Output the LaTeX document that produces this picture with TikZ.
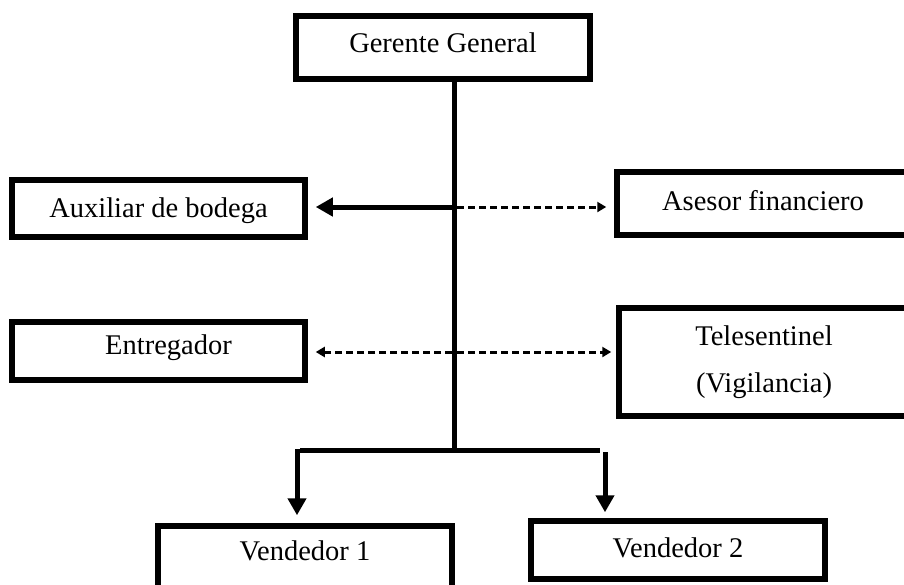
\documentclass[tikz,border=0pt]{standalone}
\usepackage{fontspec}
\setmainfont{Liberation Serif}
\usetikzlibrary{arrows.meta}
\begin{document}
\begin{tikzpicture}[x=1pt,y=-1pt,
  box/.style={draw,line width=5.5pt,rectangle,inner sep=0pt,font=\fontsize{28.5}{34}\selectfont,align=center},
  solidline/.style={line width=5pt},
  solidarrow/.style={line width=5pt,-{Triangle[length=17pt,width=18pt]}},
  dasharrow/.style={line width=3pt,dash pattern=on 7pt off 4pt,-{Triangle[length=9pt,width=10pt]}}]
\useasboundingbox (0,0) rectangle (904,584);
\node[box,minimum width=294pt,minimum height=63pt,text height=20pt,text depth=11pt] (gg) at (443,47.5) {Gerente General};
\node[box,minimum width=293pt,minimum height=57pt,text height=20pt,text depth=3pt] (aux) at (158.5,208.5) {Auxiliar de bodega};
\node[box,minimum width=292pt,minimum height=63pt,text height=20pt,text depth=7pt] (ase) at (763,203.5) {Asesor financiero};
\node[box,minimum width=293pt,minimum height=58pt,text height=20pt,text depth=14pt] (ent) at (158.5,351) {\hspace*{20pt}Entregador};
\node[box,minimum width=290pt,minimum height=108pt] (tel) at (764,362) {Telesentinel\\[13pt](Vigilancia)};
\node[box,minimum width=294pt,minimum height=74pt,text height=20pt,text depth=26pt] (v1) at (305,563) {Vendedor 1};
\node[box,minimum width=294pt,minimum height=58pt,text height=20pt,text depth=6pt] (v2) at (678,550) {Vendedor 2};
\coordinate (bus) at (454,450);
\coordinate (ja) at (454,207);
\coordinate (je) at (454,352);
\coordinate (bl) at (300,450);
\coordinate (br) at (600,450);
\draw[solidline] (gg.south -| bus) -- (bus);
\draw[solidline] (bl) -- (br);
\draw[solidarrow,shorten >=8pt] ([xshift=-1pt]ja) -- (aux.east |- ja);
\draw[dasharrow,shorten >=8pt] ([xshift=3pt]ja) -- (ase.west |- ja);
\draw[dasharrow,shorten >=8pt] ([xshift=-2pt]je) -- (ent.east |- je);
\draw[dasharrow,shorten >=5pt] ([xshift=3pt]je) -- (tel.west |- je);
\draw[solidarrow,shorten >=8pt] ([xshift=-3pt,yshift=1pt]bl) -- ([xshift=-3pt]bl |- v1.north);
\draw[solidarrow,shorten >=6pt] ([xshift=5pt,yshift=-2pt]br) -- ([xshift=5pt]br |- v2.north);
\end{tikzpicture}
\end{document}
